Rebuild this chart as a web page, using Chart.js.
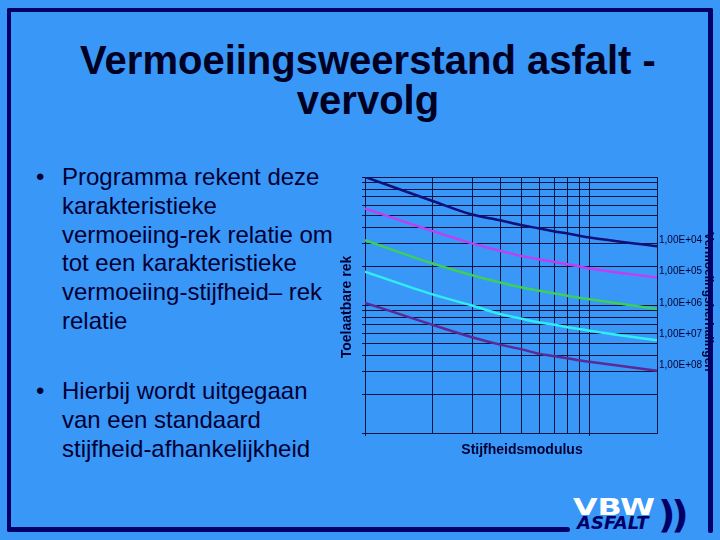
<!DOCTYPE html>
<html>
<head>
<meta charset="utf-8">
<script src="https://cdn.jsdelivr.net/npm/chart.js@4/dist/chart.umd.min.js"></script>
<style>
  html, body { margin: 0; padding: 0; }
  body { width: 720px; height: 540px; background: #3997f7; position: relative; overflow: hidden;
         font-family: "Liberation Sans", Arial, sans-serif; color: #000033; }
  .title { position: absolute; left: 68px; top: 40px; width: 600px; text-align: center;
           font-family: "Liberation Sans Narrow", "Arial Narrow", "Liberation Sans", sans-serif;
           font-weight: bold; font-size: 40px; line-height: 40px; color: #000022; }
  .para { position: absolute; left: 62px; font-size: 24px; line-height: 28.8px; white-space: nowrap; }
  .bullet { position: absolute; left: -26px; top: 0; }
  #wrap { position: absolute; left: 330px; top: 160px; width: 390px; height: 300px; }
  .frame { position: absolute; background: #000066; z-index: 5; }
  .logo { position: absolute; font-family: "DejaVu Sans", sans-serif; font-weight: bold; z-index: 6; }
</style>
</head>
<body>
<div class="title">Vermoeiingsweerstand asfalt -<br>vervolg</div>

<div class="para" style="top:163px"><span class="bullet">•</span>Programma rekent deze<br>karakteristieke<br>vermoeiing-rek relatie om<br>tot een karakteristieke<br>vermoeiing-stijfheid– rek<br>relatie</div>
<div class="para" style="top:377px"><span class="bullet">•</span>Hierbij wordt uitgegaan<br>van een standaard<br>stijfheid-afhankelijkheid</div>

<div id="wrap"><canvas id="chart" width="390" height="300"></canvas></div>

<!-- slide frame -->
<div class="frame" style="left:7px; top:8px; width:706px; height:4px; border-radius:2px"></div>
<div class="frame" style="left:7px; top:8px; width:4px; height:524px; border-radius:2px"></div>
<div class="frame" style="left:7px; top:527px; width:563px; height:5px; border-radius:3px"></div>
<div class="frame" style="left:708px; top:8px; width:5px; height:525px; border-radius:2px"></div>

<!-- logo -->
<div class="logo" style="left:573px; top:496px; font-size:23px; line-height:23px; color:#ffffff; transform:scaleX(1.38); transform-origin:left top">VBW</div>
<div class="logo" style="left:577px; top:514px; font-size:18px; line-height:18px; color:#000066; font-style:italic">ASFALT</div>
<div class="logo" style="left:658px; top:494px; font-size:38px; line-height:40px; color:#000066; letter-spacing:-4px">))</div>

<script>
// stiffness (relative), x positions of the curve points
const stiffness = [1, 2, 3, 4, 5, 6, 7, 8, 9, 10, 20];
// permissible strain per number of load repetitions
const strainN1e4 = [1000, 650, 509, 459, 420, 396, 375, 362, 348, 337, 288];
const strainN1e5 = [567, 378, 303, 265, 241, 227, 217, 208, 200, 193, 164];
const strainN1e6 = [321, 211, 171, 150, 137, 129, 123, 118, 114, 111, 93];
const strainN1e7 = [182, 121, 99, 85, 78, 73, 70, 67, 65, 63, 53];
const strainN1e8 = [104, 70, 56, 49, 45, 41.5, 39.8, 38.4, 37, 36, 30.6];
const seriesLabels = ['1,00E+04', '1,00E+05', '1,00E+06', '1,00E+07', '1,00E+08'];
const seriesColors = ['#10107a', '#c23ef2', '#3ccf5c', '#30ecf4', '#5a2a96'];
// grid positions
const xGrid = [1, 2, 3, 4, 5, 6, 7, 8, 9, 10, 20];
const yGrid = [10, 20, 30, 40, 50, 60, 70, 80, 90, 100, 200, 300, 400, 500, 600, 700, 800, 900, 1000];

const gridColor = '#0a1440';
const allSeries = [strainN1e4, strainN1e5, strainN1e6, strainN1e7, strainN1e8];

const overlay = {
  id: 'overlay',
  afterDraw(chart) {
    const { ctx, chartArea, scales } = chart;
    ctx.save();
    // curve labels at the right end
    ctx.fillStyle = '#000033';
    ctx.font = '10px "Liberation Sans", Arial, sans-serif';
    ctx.textBaseline = 'middle';
    ctx.textAlign = 'left';
    chart.data.datasets.forEach((ds, i) => {
      const last = ds.data[ds.data.length - 1];
      ctx.fillText(seriesLabels[i], chartArea.right + 2, scales.y.getPixelForValue(last.y) - 6);
    });
    // axis titles
    ctx.font = 'bold 14px "Liberation Sans", Arial, sans-serif';
    ctx.textAlign = 'center';
    ctx.fillStyle = '#000033';
    ctx.fillText('Stijfheidsmodulus', (chartArea.left + chartArea.right) / 2 + 11, chartArea.bottom + 17);
    ctx.save();
    ctx.translate(chartArea.left - 18, (chartArea.top + chartArea.bottom) / 2 + 2);
    ctx.rotate(-Math.PI / 2);
    ctx.fillText('Toelaatbare rek', 0, 0);
    ctx.restore();
    // secondary title, mostly hidden behind the slide frame
    ctx.font = 'bold 12px "Liberation Sans", Arial, sans-serif';
    ctx.save();
    ctx.translate(378, (chartArea.top + chartArea.bottom) / 2 - 3);
    ctx.rotate(Math.PI / 2);
    ctx.fillText('Vermoeiingsherhalingen', 0, 0);
    ctx.restore();
    ctx.restore();
  }
};

new Chart(document.getElementById('chart'), {
  type: 'line',
  data: {
    datasets: allSeries.map((s, i) => ({
      label: seriesLabels[i],
      data: stiffness.map((x, j) => ({ x: x, y: s[j] })),
      borderColor: seriesColors[i],
      borderWidth: 2.5,
      pointRadius: 0,
      cubicInterpolationMode: 'monotone',
      fill: false
    }))
  },
  options: {
    responsive: false,
    animation: false,
    devicePixelRatio: 1,
    layout: { padding: { left: 32, top: 17, right: 63, bottom: 24 } },
    plugins: { legend: { display: false }, tooltip: { enabled: false } },
    scales: {
      x: {
        type: 'logarithmic',
        min: 1,
        max: 20,
        afterBuildTicks: axis => { axis.ticks = xGrid.map(v => ({ value: v })); },
        ticks: { display: false },
        grid: {
          color: gridColor,
          lineWidth: 1,
          tickLength: 3,
          tickColor: c => (c.tick && (c.tick.value === 1 || c.tick.value === 10)) ? gridColor : 'rgba(0,0,0,0)'
        },
        border: { color: gridColor, width: 1 }
      },
      y: {
        type: 'logarithmic',
        min: 10,
        max: 1000,
        afterBuildTicks: axis => { axis.ticks = yGrid.map(v => ({ value: v })); },
        ticks: { display: false },
        grid: { color: gridColor, lineWidth: 1, tickLength: 3, tickColor: gridColor },
        border: { color: gridColor, width: 1 }
      }
    }
  },
  plugins: [overlay]
});
</script>
</body>
</html>
